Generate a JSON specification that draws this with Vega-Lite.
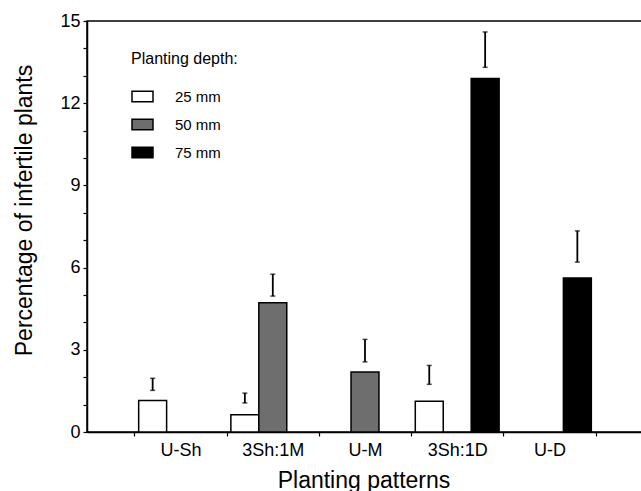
{
  "$schema": "https://vega.github.io/schema/vega-lite/v6.json",
  "autosize": {"type": "none"},
  "width": 556,
  "height": 411,
  "padding": {"left": 87, "top": 21, "right": -2, "bottom": 59},
  "background": "white",
  "config": {
    "view": {"stroke": "black", "strokeWidth": 1.5},
    "font": "Liberation Sans",
    "axis": {"domainColor": "black", "tickColor": "black", "labelColor": "black", "titleColor": "black", "grid": false, "labelFont": "Liberation Sans", "titleFont": "Liberation Sans", "titleFontWeight": "normal", "domainWidth": 1.5, "tickWidth": 1.2},
    "axisY": {
      "titleFontSize": 23, "titleX": -56, "titleY": 189, "titleBaseline": "alphabetic", "titleAngle": -90, "titleAlign": "center",
      "labelOverlap": false, "labelFontSize": 18, "labelPadding": 3, "tickSize": 4
    }
  },
  "data": {
    "values": [
      {"pattern": "U-Sh", "depth": "25 mm", "value": 1.15, "lo": 1.52, "hi": 1.96},
      {"pattern": "3Sh:1M", "depth": "25 mm", "value": 0.63, "lo": 1.06, "hi": 1.42},
      {"pattern": "3Sh:1M", "depth": "50 mm", "value": 4.72, "lo": 4.96, "hi": 5.76},
      {"pattern": "U-M", "depth": "50 mm", "value": 2.19, "lo": 2.56, "hi": 3.38},
      {"pattern": "3Sh:1D", "depth": "25 mm", "value": 1.12, "lo": 1.74, "hi": 2.43},
      {"pattern": "3Sh:1D", "depth": "75 mm", "value": 12.9, "lo": 13.31, "hi": 14.6},
      {"pattern": "U-D", "depth": "75 mm", "value": 5.62, "lo": 6.2, "hi": 7.34}
    ]
  },
  "layer": [
    {
      "mark": {"type": "bar", "stroke": "black", "strokeWidth": 1.5},
      "encoding": {
        "x": {
          "field": "pattern", "type": "nominal",
          "sort": ["U-Sh", "3Sh:1M", "U-M", "3Sh:1D", "U-D"],
          "scale": {"domain": ["U-Sh", "3Sh:1M", "U-M", "3Sh:1D", "U-D"], "paddingInner": 0, "paddingOuter": 0.515},
          "axis": {
            "title": "Planting patterns", "titleFontSize": 23, "titleX": 276.5, "titleY": 55, "titleBaseline": "alphabetic", "titleAnchor": "middle",
            "labelAngle": 0, "labelFontSize": 18, "labelPadding": 5, "tickSize": 4, "tickBand": "extent",
            "encode": {"labels": {"update": {"dx": {"signal": "datum.value == 'U-Sh' ? -19 : datum.value == '3Sh:1M' ? -12 : datum.value == '3Sh:1D' ? -2 : datum.value == 'U-D' ? 25 : 0"}}}}
          }
        },
        "xOffset": {
          "field": "depth", "type": "nominal",
          "scale": {"domain": ["25 mm", "50 mm", "75 mm"], "paddingInner": 0, "paddingOuter": 0.15}
        },
        "y": {
          "field": "value", "type": "quantitative",
          "scale": {"domain": [0, 15], "nice": false, "zero": true},
          "axis": {
            "title": "Percentage of infertile plants",
            "values": [0, 1, 2, 3, 4, 5, 6, 7, 8, 9, 10, 11, 12, 13, 14, 15],
            "labelExpr": "datum.value % 3 == 0 ? datum.label : ''"
          }
        },
        "fill": {
          "field": "depth", "type": "nominal",
          "scale": {"domain": ["25 mm", "50 mm", "75 mm"], "range": ["white", "#6e6e6e", "black"]},
          "legend": {
            "title": "Planting depth:", "orient": "none", "legendX": 44, "legendY": 30,
            "titleFontSize": 16, "titleFontWeight": "normal", "titleColor": "black", "titlePadding": 18, "titleFont": "Liberation Sans",
            "labelFontSize": 15, "labelColor": "black", "labelFont": "Liberation Sans", "labelOffset": 21,
            "symbolType": "M-1,-0.5L1,-0.5L1,0.5L-1,0.5Z", "symbolSize": 441, "symbolStrokeColor": "black", "symbolStrokeWidth": 1.5,
            "rowPadding": 8, "padding": 0
          }
        }
      }
    },
    {
      "mark": {"type": "rule", "color": "black", "strokeWidth": 1.8},
      "encoding": {
        "x": {"field": "pattern", "type": "nominal", "sort": ["U-Sh", "3Sh:1M", "U-M", "3Sh:1D", "U-D"]},
        "xOffset": {"field": "depth", "type": "nominal"},
        "y": {"field": "lo", "type": "quantitative", "axis": {"title": "Percentage of infertile plants", "values": [0, 1, 2, 3, 4, 5, 6, 7, 8, 9, 10, 11, 12, 13, 14, 15], "labelExpr": "datum.value % 3 == 0 ? datum.label : ''"}},
        "y2": {"field": "hi"}
      }
    },
    {
      "mark": {"type": "tick", "color": "black", "size": 5, "thickness": 1.5},
      "encoding": {
        "x": {"field": "pattern", "type": "nominal", "sort": ["U-Sh", "3Sh:1M", "U-M", "3Sh:1D", "U-D"]},
        "xOffset": {"field": "depth", "type": "nominal"},
        "y": {"field": "hi", "type": "quantitative", "axis": {"title": "Percentage of infertile plants", "values": [0, 1, 2, 3, 4, 5, 6, 7, 8, 9, 10, 11, 12, 13, 14, 15], "labelExpr": "datum.value % 3 == 0 ? datum.label : ''"}}
      }
    },
    {
      "mark": {"type": "tick", "color": "black", "size": 5, "thickness": 1.5},
      "encoding": {
        "x": {"field": "pattern", "type": "nominal", "sort": ["U-Sh", "3Sh:1M", "U-M", "3Sh:1D", "U-D"]},
        "xOffset": {"field": "depth", "type": "nominal"},
        "y": {"field": "lo", "type": "quantitative", "axis": {"title": "Percentage of infertile plants", "values": [0, 1, 2, 3, 4, 5, 6, 7, 8, 9, 10, 11, 12, 13, 14, 15], "labelExpr": "datum.value % 3 == 0 ? datum.label : ''"}}
      }
    }
  ]
}
